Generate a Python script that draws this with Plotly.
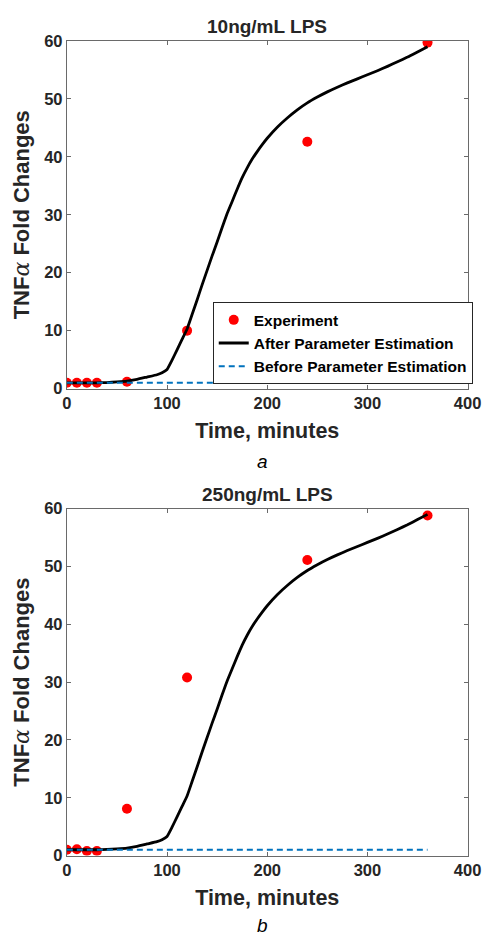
import plotly.graph_objects as go

# Experimental TNF-alpha fold changes (time in minutes)
exp_time = [0, 10, 20, 30, 60, 120, 240, 360]
exp_10ng = [1.0, 1.0, 1.0, 1.0, 1.2, 10.0, 42.6, 59.7]
exp_250ng = [1.0, 1.1, 0.8, 0.8, 8.1, 30.8, 51.1, 58.8]

# Model output after parameter estimation
fit_time = [0, 10, 20, 30, 40, 50, 60, 70, 80, 90, 95, 100, 105, 110, 115,
            120, 125, 130, 135, 140, 145, 150, 155, 160, 165, 170, 175, 180,
            185, 190, 195, 200, 210, 220, 230, 240, 250, 260, 270, 280, 290,
            300, 310, 320, 330, 340, 350, 360]
fit_vals = [1.0, 1.0, 1.0, 1.0, 1.05, 1.15, 1.3, 1.6, 2.0, 2.4, 2.75, 3.3,
            4.9, 6.7, 8.5, 10.3, 12.8, 15.3, 17.9, 20.4, 22.9, 25.3, 27.8,
            30.2, 32.3, 34.4, 36.4, 38.1, 39.6, 40.9, 42.1, 43.2, 45.1, 46.7,
            48.1, 49.3, 50.3, 51.2, 52.0, 52.75, 53.45, 54.15, 54.85, 55.6,
            56.4, 57.2, 58.1, 59.0]

# Model output before parameter estimation
pre_time = [0, 360]
pre_vals = [1.0, 1.0]

panel_titles = ["10ng/mL LPS", "250ng/mL LPS"]
panel_tags = ["a", "b"]
x_title = "Time, minutes"
y_title = ("TNF<span style=\"font-family:'DejaVu Serif';font-weight:normal\">"
           "<i>α</i></span> Fold Changes")
x_ticks = [0, 100, 200, 300, 400]
y_ticks = [0, 10, 20, 30, 40, 50, 60]

W, H = 497, 944
FONT = "Liberation Sans, Arial, Helvetica, sans-serif"
DARK = "#262626"
AXC = "#6a6a6a"

def py(px):
    return 1 - px / H

x_dom = [64.3 / W, 481 / W]
y_doms = [[py(387), py(32.5)], [py(863), py(509.3)]]

fig = go.Figure()

for i, (xa, ya, vals) in enumerate([("x", "y", exp_10ng), ("x2", "y2", exp_250ng)]):
    show = i == 0
    fig.add_trace(go.Scatter(
        x=exp_time, y=vals, mode="markers", name="Experiment",
        marker=dict(color="#ff0000", size=10, line=dict(width=0)),
        xaxis=xa, yaxis=ya, showlegend=show))
    fig.add_trace(go.Scatter(
        x=fit_time, y=fit_vals, mode="lines", name="After Parameter Estimation",
        line=dict(color="black", width=2.8, shape="spline", smoothing=0.4),
        xaxis=xa, yaxis=ya, showlegend=show))
    fig.add_trace(go.Scatter(
        x=pre_time, y=pre_vals, mode="lines", name="Before Parameter Estimation",
        line=dict(color="#0072BD", width=2, dash="6px,4px"),
        xaxis=xa, yaxis=ya, showlegend=show))

axis_common = dict(
    showgrid=False, zeroline=False, showline=True, linecolor=AXC, linewidth=1,
    mirror="ticks", ticks="inside", ticklen=4, tickcolor=AXC, tickwidth=1,
    tickfont=dict(family=FONT, size=16.5, color=DARK, weight="bold"),
)

layout = dict(
    width=W, height=H, margin=dict(l=0, r=0, t=0, b=0),
    plot_bgcolor="white", paper_bgcolor="white",
    showlegend=True,
    legend=dict(
        x=216 / W, y=py(299), xanchor="left", yanchor="top",
        bordercolor=DARK, borderwidth=1, bgcolor="white",
        font=dict(family=FONT, size=15.5, color="black", weight="bold"),
        itemwidth=30, tracegroupgap=0,
    ),
)

for i in range(2):
    sx = "" if i == 0 else "2"
    layout["xaxis" + sx] = dict(
        axis_common, domain=x_dom, range=[0, 400], tickvals=x_ticks,
        anchor="y" + sx,
        title=dict(text=x_title, standoff=11,
                   font=dict(family=FONT, size=21.5, color=DARK, weight="bold")),
    )
    layout["yaxis" + sx] = dict(
        axis_common, domain=y_doms[i], range=[0, 60], tickvals=y_ticks,
        anchor="x" + sx,
        title=dict(text=y_title, standoff=8,
                   font=dict(family=FONT, size=22, color=DARK, weight="bold")),
    )

fig.update_layout(**layout)

title_y = [17.5, 495]
tag_y = [461, 934]
for i in range(2):
    fig.add_annotation(
        text=panel_titles[i], xref="paper", yref="paper",
        x=(x_dom[0] + x_dom[1]) / 2, y=py(title_y[i]),
        xanchor="center", yanchor="middle", showarrow=False,
        font=dict(family=FONT, size=19, color=DARK, weight="bold"))
    fig.add_annotation(
        text=panel_tags[i], xref="paper", yref="paper",
        x=268 / W, y=py(tag_y[i]),
        xanchor="center", yanchor="middle", showarrow=False,
        font=dict(family=FONT, size=19, color="black", style="italic"))

fig.write_html("out.html")
